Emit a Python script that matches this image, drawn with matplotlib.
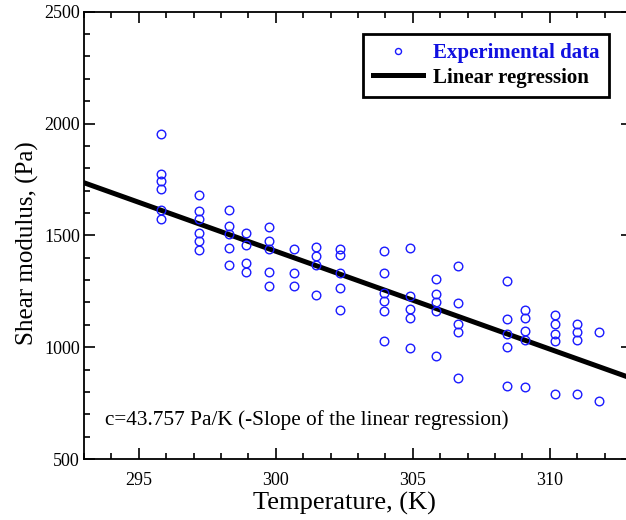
import matplotlib
matplotlib.use('Agg')
import matplotlib.pyplot as plt
from matplotlib.ticker import MultipleLocator
import numpy as np

plt.rcParams['font.family'] = ['Liberation Serif', 'DejaVu Serif']

# temperature columns (K) and measured shear modulus (Pa)
temps = [295.8, 297.2, 298.3, 298.9, 299.75, 300.65, 301.45, 302.35, 303.95,
         304.9, 305.85, 306.65, 308.45, 309.1, 310.2, 311.0, 311.8]
moduli = [
    [1952, 1774, 1743, 1706, 1613, 1574],
    [1679, 1609, 1572, 1512, 1475, 1433],
    [1613, 1543, 1505, 1442, 1366],
    [1512, 1458, 1378, 1334],
    [1539, 1475, 1438, 1337, 1272],
    [1438, 1333, 1272],
    [1447, 1409, 1366, 1232],
    [1439, 1412, 1333, 1263, 1166],
    [1430, 1333, 1244, 1206, 1163, 1029],
    [1442, 1230, 1169, 1129, 995],
    [1306, 1238, 1203, 1163, 962],
    [1364, 1197, 1104, 1066, 862],
    [1296, 1127, 1059, 1001, 828],
    [1166, 1129, 1071, 1032, 823],
    [1142, 1104, 1059, 1028, 791],
    [1104, 1066, 1032, 791],
    [1066, 759],
]

slope = -43.757
intercept = 14556.0
x_fit = [293.0, 313.0]

T = []
G = []
for t, vals in zip(temps, moduli):
    for v in vals:
        T.append(t)
        G.append(v)

fig = plt.figure(figsize=(6.26, 5.20), dpi=100)
# right edge of the frame falls just outside the picture, as in the original
ax = fig.add_axes([0.1342, 0.1173, 0.8754, 0.8602])

ax.plot(T, G, 'o', mfc='none', mec='#1a1aff', ms=6.2, mew=1.0,
        label='Experimental data', zorder=3)
xf = np.array(x_fit)
ax.plot(xf, intercept + slope * xf, color='black', lw=3.6,
        label='Linear regression', zorder=2)

ax.set_xlim(293, 313)
ax.set_ylim(500, 2500)
ax.xaxis.set_major_locator(MultipleLocator(5))
ax.xaxis.set_minor_locator(MultipleLocator(1))
ax.yaxis.set_major_locator(MultipleLocator(500))
ax.yaxis.set_minor_locator(MultipleLocator(100))
ax.tick_params(which='both', direction='in', top=True, right=True,
               labelsize=13, width=1.2)
ax.tick_params(which='major', length=8)
ax.tick_params(which='minor', length=4)
ax.tick_params(axis='x', which='major', pad=9)
ax.tick_params(axis='y', which='major', pad=3)
for s in ax.spines.values():
    s.set_linewidth(1.3)

ax.set_xlabel('Temperature, (K)', fontsize=19)
ax.set_ylabel('Shear modulus, (Pa)', fontsize=18)
ax.xaxis.set_label_coords(0.476, -0.0727)
ax.yaxis.set_label_coords(-0.082, 0.482)

ax.text(293.77, 652, 'c=43.757 Pa/K (-Slope of the linear regression)',
        fontsize=15.3, ha='left', va='baseline')

leg = ax.legend(loc='upper right', bbox_to_anchor=(0.958, 0.950),
                borderaxespad=0, fancybox=False, framealpha=1,
                edgecolor='black', prop={'weight': 'bold', 'size': 15},
                markerscale=0.7, handlelength=2.4, borderpad=0.45,
                labelspacing=0.2, handletextpad=0.5)
leg.get_frame().set_linewidth(2.0)
leg.get_texts()[0].set_color('#1010e0')

fig.savefig('out.png', dpi=100)
